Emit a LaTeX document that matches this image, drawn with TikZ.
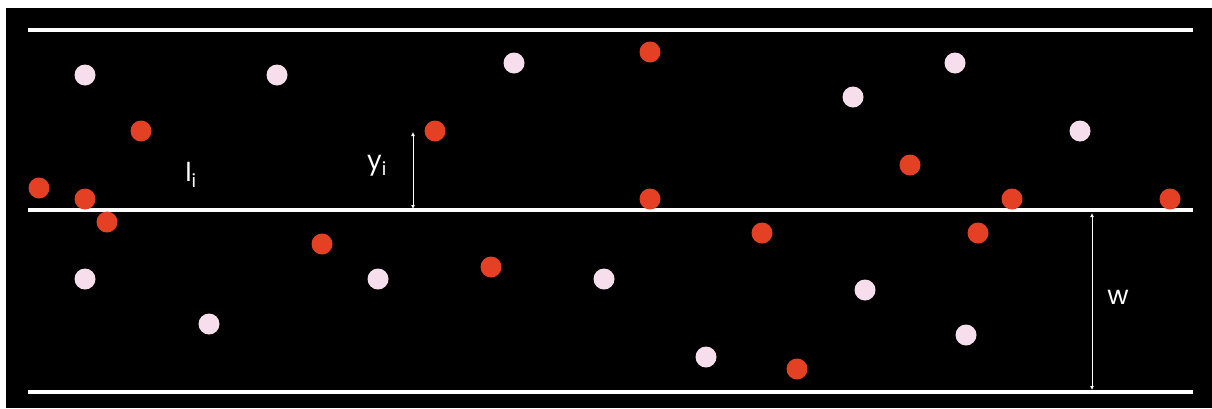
\documentclass[tikz,border=0pt]{standalone}
\usepackage{fontspec}
\setmainfont{Poppins}
\usetikzlibrary{arrows.meta}
\definecolor{dotred}{RGB}{228,64,36}
\definecolor{dotpink}{RGB}{246,222,236}
\tikzset{
  band/.style={white, line width=3.5pt},
  rdot/.style={circle, fill=dotred, inner sep=0pt, minimum size=21pt},
  pdot/.style={circle, fill=dotpink, inner sep=0pt, minimum size=21pt},
  dim/.style={white, line width=1pt, {Latex[length=4pt,width=4pt]}-{Latex[length=4pt,width=4pt]}},
  lab/.style={white, inner sep=0pt, font=\fontsize{26}{30}\selectfont}
}
\begin{document}
\begin{tikzpicture}[x=1pt,y=-1pt]
\useasboundingbox (0,0) rectangle (1212,408);
\fill[black] (6,8) rectangle (1212,408);
% lines
\coordinate (t1) at (28,30); \coordinate (t2) at (1193,30);
\coordinate (m1) at (28,210); \coordinate (m2) at (1193,210);
\coordinate (b1) at (28,392); \coordinate (b2) at (1193,392);
\draw[band] (t1) -- (t2);
\draw[band] (m1) -- (m2);
\draw[band] (b1) -- (b2);
% pink dots
\foreach \n/\x/\y in {p1/85/75, p2/277/75, p3/514/63, p4/853/97, p5/955/63, p6/1080/131,
  p7/85/279, p8/209/324, p9/378/279, p10/604/279, p11/865/290, p12/706/357, p13/966/335}
  \node[pdot] (\n) at (\x,\y) {};
% red dots
\foreach \n/\x/\y in {r1/141/131, r2/435/131, r3/650/52, r4/910/165, r5/39/188, r6/85/199,
  r7/107/222, r8/650/199, r9/1012/199, r10/1170/199, r11/322/244, r12/491/267, r13/762/233,
  r14/978/233, r15/797/369}
  \node[rdot] (\n) at (\x,\y) {};
% dimension arrows
\coordinate (ya) at (413,132); \coordinate (yb) at (413,209);
\draw[dim] (ya) -- (yb);
\coordinate (wa) at (1092,213); \coordinate (wb) at (1092,390);
\draw[dim] (wa) -- (wb);
% labels
\node[lab] (li) at (191,175) {l\textsubscript{i}};
\node[lab] (yi) at (377,166) {y\textsubscript{i}};
\node[lab] (w) at (1118,297) {w};
\end{tikzpicture}
\end{document}
